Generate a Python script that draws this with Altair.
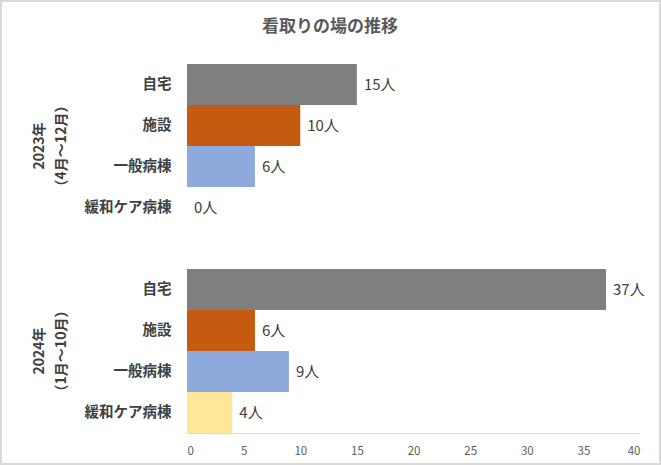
import altair as alt
import pandas as pd

title_text = "看取りの場の推移"
categories = ["自宅", "施設", "一般病棟", "緩和ケア病棟"]
periods = ["2023年", "2024年"]
period_notes = ["（4月～12月）", "（1月～10月）"]
values_2023 = [15, 10, 6, 0]
values_2024 = [37, 6, 9, 4]
colors = ["#7F7F7F", "#C55A11", "#8EA9DB", "#FFE699"]
x_ticks = [0, 5, 10, 15, 20, 25, 30, 35, 40]

rows = []
for p, vals in zip(periods, [values_2023, values_2024]):
    for c, v in zip(categories, vals):
        rows.append({"key": f"{p}|{c}", "cat": c, "value": v, "label": f"{v}人"})
df = pd.DataFrame(rows)

domain = [f"{periods[0]}|{c}" for c in categories] + ["spacer"] + [f"{periods[1]}|{c}" for c in categories]

groups = pd.DataFrame({
    "key": [f"{p}|{categories[2]}" for p in periods],
    "text": [f"{p}\n{n}" for p, n in zip(periods, period_notes)],
})

FONT = "Noto Sans CJK JP"
y_scale = alt.Scale(domain=domain, paddingInner=0, paddingOuter=0)

y_enc = alt.Y(
    "key:N",
    scale=y_scale,
    axis=alt.Axis(
        title=None, domain=False, ticks=False, labelPadding=16,
        labelExpr="indexof(datum.label, '|') >= 0 ? split(datum.label, '|')[1] : ''",
        labelFont=FONT, labelFontSize=14.5, labelFontWeight="bold", labelColor="#404040",
    ),
)
x_scale = alt.Scale(domain=[0, 40], nice=False)

bars = alt.Chart(df).mark_bar().encode(
    x=alt.X("value:Q", scale=x_scale,
            axis=alt.Axis(title=None, values=x_ticks, grid=False, ticks=False,
                          domainColor="#D9D9D9", labelColor="#595959", labelFont=FONT,
                          labelFontSize=11.5, labelPadding=12)),
    y=y_enc,
    color=alt.Color("cat:N", scale=alt.Scale(domain=categories, range=colors), legend=None),
)

labels = alt.Chart(df).mark_text(align="left", baseline="middle", dx=7, font=FONT,
                                  fontSize=15, color="#404040").encode(
    x=alt.X("value:Q", scale=x_scale),
    y=alt.Y("key:N", scale=y_scale),
    text="label:N",
)

group_labels = alt.Chart(groups).mark_text(
    angle=270, align="center", baseline="middle", lineBreak="\n", lineHeight=22,
    font=FONT, fontSize=14, fontWeight="bold", color="#404040",
).encode(
    x=alt.value(-147),
    y=alt.Y("key:N", bandPosition=0, scale=y_scale),
    text="text:N",
)

title = alt.Chart(pd.DataFrame({"t": [title_text]})).mark_text(
    font=FONT, fontSize=17, fontWeight="bold", color="#595959",
    align="center", baseline="middle",
).encode(x=alt.value(143), y=alt.value(-37), text="t:N")

border = alt.Chart(pd.DataFrame({"a": [0]})).mark_rect(
    fill=None, stroke="#D9D9D9", strokeWidth=2
).encode(
    x=alt.value(-186), x2=alt.value(473), y=alt.value(-63), y2=alt.value(400)
)

chart = alt.layer(border, title, bars, labels, group_labels).properties(
    width=453, height=369,
    background="white",
    autosize=alt.AutoSizeParams(type="none"),
    padding={"left": 187, "top": 64, "right": 21, "bottom": 32},
).configure_view(strokeWidth=0, stroke=None)

chart.save("out.html", embed_options={"renderer": "svg", "actions": False})
